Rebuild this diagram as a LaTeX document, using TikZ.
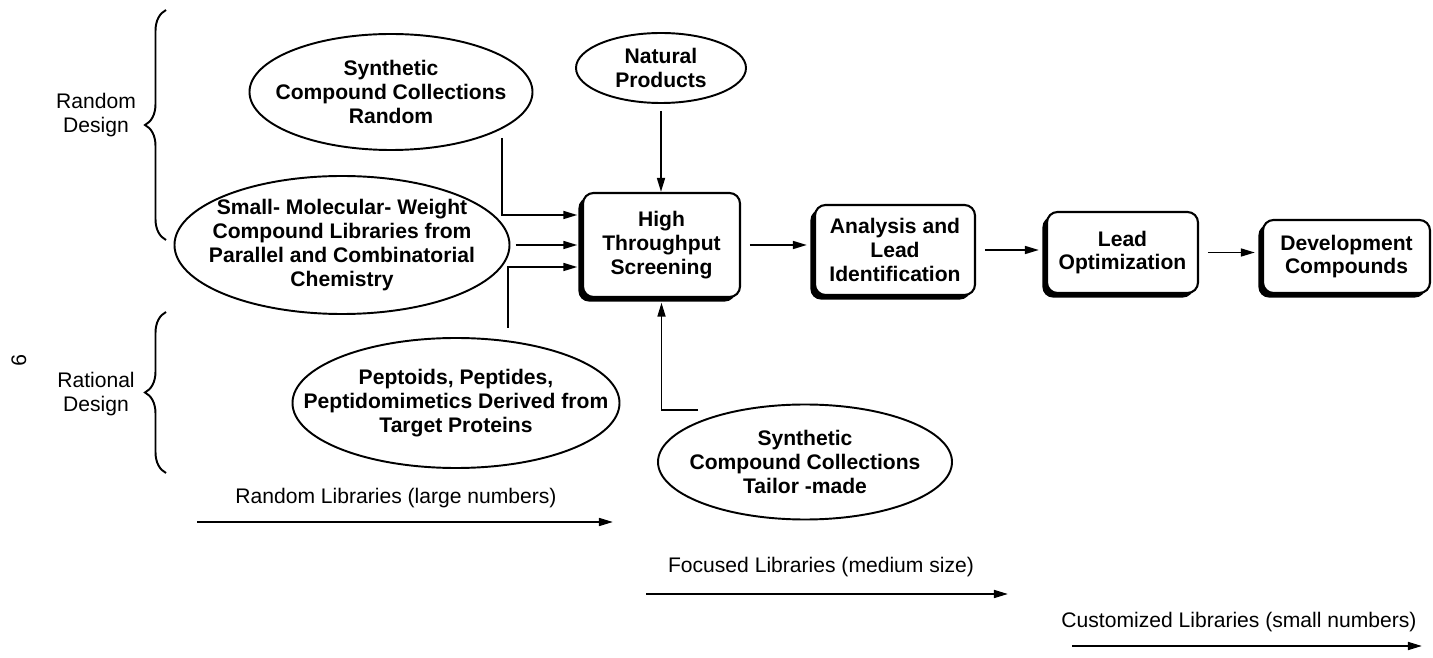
\documentclass[tikz,border=0pt]{standalone}
\usepackage{fontspec}
\setmainfont{Liberation Sans}
\usetikzlibrary{shapes.geometric,shadows,arrows.meta,decorations.pathreplacing}
\begin{document}
\begin{tikzpicture}[x=0.2cm, y=0.2cm,
	every node/.style={inner sep=0pt, font=\fontsize{12}{13.6}\selectfont},
	source/.style={ellipse, draw, line width=1.1pt, align=center, inner sep=-2cm,
		font=\fontsize{12}{13.6}\selectfont\bfseries},
	stage/.style={draw, rounded corners=6pt, line width=1.2pt, fill=white, align=center,
		font=\fontsize{12}{13.6}\selectfont\bfseries,
		general shadow={fill=black, shadow xshift=-2.6pt, shadow yshift=-2.6pt}},
	flow/.style={line width=1.1pt, -{Triangle[length=8pt,width=4.5pt]}},
	bracket/.style={decorate, decoration={brace, amplitude=0.42cm}, line width=1.1pt}]
	\useasboundingbox (0,0) rectangle (143.3,-65.8);
	% left braces
	\draw [bracket] (16.6,-24.0) -- (16.6,-1.0);
	\node [align=center] (randdes) at (9.6,-11.5) {Random\\Design};
	\draw [bracket] (16.6,-47.3) -- (16.6,-31.2);
	\node [align=center] (ratdes) at (9.6,-39.4) {Rational\\Design};
	\node [rotate=-90] (pagenum) at (1.9,-36.0) {9};
	% sources
	\node [source, minimum width=5.66cm, minimum height=2.32cm] (synrand) at (39.1,-9.2) {Synthetic\\Compound Collections\\Random};
	\node [source, minimum width=3.4cm, minimum height=1.4cm] (natprod) at (66.1,-6.8) {Natural\\Products};
	\node [source, minimum width=6.7cm, minimum height=2.76cm] (smallmw) at (34.2,-24.5) {Small- Molecular- Weight\\Compound Libraries from\\Parallel and Combinatorial\\Chemistry};
	\node [source, minimum width=6.54cm, minimum height=2.6cm] (peptoids) at (45.6,-40.3) {Peptoids, Peptides,\\Peptidomimetics Derived from\\Target Proteins};
	\node [source, minimum width=5.88cm, minimum height=2.3cm] (tailor) at (80.5,-46.2) {Synthetic\\Compound Collections\\Tailor -made};
	% stages
	\node [stage, minimum width=3.14cm, minimum height=2.08cm] (hts) at (66.15,-24.5) {High\\Throughput\\Screening};
	\node [stage, minimum width=3.2cm, minimum height=1.8cm] (analysis) at (89.5,-25.0) {Analysis and\\Lead\\Identification};
	\node [stage, minimum width=3.02cm, minimum height=1.62cm] (leadopt) at (112.25,-25.25) {Lead\\Optimization};
	\node [stage, minimum width=3.34cm, minimum height=1.46cm] (devcomp) at (134.65,-25.65) {Development\\Compounds};
	\coordinate (htsin) at ([xshift=-2.6pt]hts.west);
	\coordinate (htsbot) at ([yshift=-2.6pt]hts.south);
	% inputs to screening
	\coordinate (synrandout) at (50.2,-13.8);
	\coordinate (lvltop) at (0,-21.5);
	\draw [flow] (synrandout) |- (htsin |- lvltop);
	\draw [flow] ([xshift=3pt]smallmw.east) -- (smallmw.east -| htsin);
	\coordinate (peptout) at (50.8,-32.8);
	\coordinate (lvlbot) at (0,-26.7);
	\draw [flow] (peptout) |- (htsin |- lvlbot);
	\draw [flow] ([yshift=-4pt]natprod.south) -- (natprod.south |- hts.north);
	\coordinate (tailorout) at (69.8,-41.0);
	\draw [flow] (tailorout) -| (htsbot);
	% main chain
	\draw [flow] ([xshift=5pt]hts.east) -- ([xshift=-4pt]hts.east -| analysis.west);
	\draw [flow] ([xshift=5pt]analysis.east) -- ([xshift=-4pt]analysis.east -| leadopt.west);
	\draw [flow] ([xshift=5pt]leadopt.east) -- ([xshift=-4pt]leadopt.east -| devcomp.west);
	% library scales
	\node (randlbl) at (39.6,-49.8) {Random Libraries (large numbers)};
	\coordinate (randA) at (19.7,-52.2);
	\coordinate (randB) at (61.3,-52.2);
	\draw [flow] (randA) -- (randB);
	\node (foclbl) at (82.1,-56.7) {Focused Libraries (medium size)};
	\coordinate (focA) at (64.6,-59.4);
	\coordinate (focB) at (100.8,-59.4);
	\draw [flow] (focA) -- (focB);
	\node (custlbl) at (123.9,-62.2) {Customized Libraries (small numbers)};
	\coordinate (custA) at (107.2,-64.6);
	\coordinate (custB) at (142.2,-64.6);
	\draw [flow] (custA) -- (custB);
\end{tikzpicture}
\end{document}
